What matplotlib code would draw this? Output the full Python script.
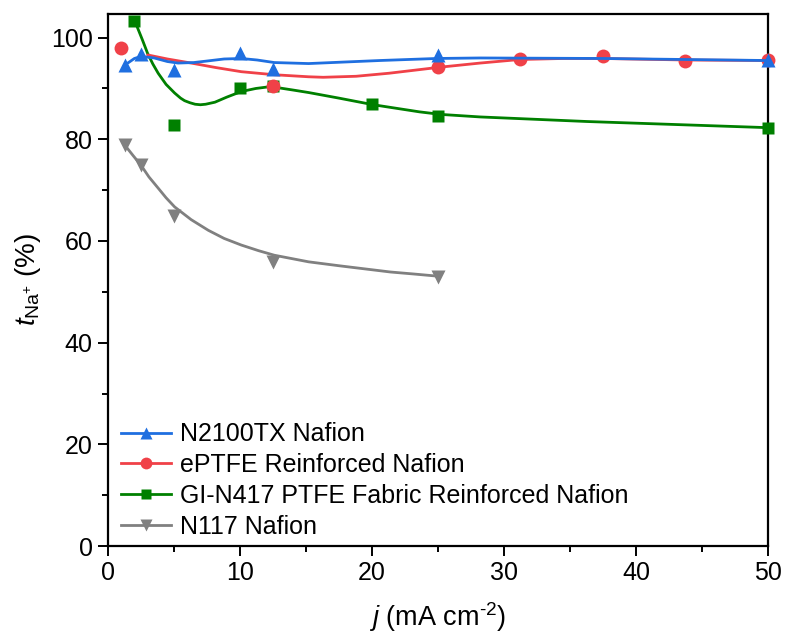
import numpy as np
import matplotlib
matplotlib.use("Agg")
import matplotlib.pyplot as plt
from matplotlib.ticker import MultipleLocator

plt.rcParams['font.family'] = ['Liberation Sans', 'DejaVu Sans']
plt.rcParams['mathtext.fontset'] = 'custom'
plt.rcParams['mathtext.rm'] = 'Liberation Sans'
plt.rcParams['mathtext.it'] = 'Liberation Sans:italic'

# measured points
x_n2100 = [1.25, 2.5, 5, 10, 12.5, 25, 50]
y_n2100 = [94.6, 96.7, 93.7, 97.0, 93.8, 96.6, 95.6]
x_eptfe = [1, 12.5, 25, 31.25, 37.5, 43.75, 50]
y_eptfe = [97.9, 90.5, 94.2, 95.8, 96.3, 95.4, 95.6]
x_gi = [2, 5, 10, 12.5, 20, 25, 50]
y_gi = [103.2, 82.9, 90.1, 90.5, 86.9, 84.5, 82.2]
x_n117 = [1.25, 2.5, 5, 12.5, 25]
y_n117 = [78.8, 75.0, 64.9, 55.9, 52.9]

# fitted curves
cx_n2100 = [1.5, 2.0, 2.5, 3.5, 4.5, 5.3, 6.5, 7.5, 8.8, 10.1, 11.3, 12.6, 15.2, 20.6, 24.9,
            28.2, 37.5, 49.9]
cy_n2100 = [95.0, 95.9, 96.3, 96.0, 95.3, 95.0, 95.1, 95.4, 95.8, 95.9, 95.6, 95.1, 94.9,
            95.5, 95.9, 96.0, 95.9, 95.5]
cx_eptfe = [3.0, 4.5, 6.3, 8.2, 10.1, 12.6, 15.2, 16.3, 18.8, 21.3, 25.2, 28.2, 31.2, 34.5,
            37.5, 43.8, 49.9]
cy_eptfe = [96.6, 95.8, 95.0, 94.1, 93.3, 92.7, 92.3, 92.2, 92.4, 93.0, 94.2, 95.0, 95.7,
            95.9, 95.9, 95.6, 95.5]
cx_gi = [2.15, 2.6, 3.0, 3.4, 3.8, 4.4, 5.05, 5.5, 5.8, 6.2, 6.6, 7.0, 7.4, 8.1, 9.0, 10.1,
         11.2, 12.1, 13.0, 14.0, 15.2, 17.5, 20.1, 23.6, 25.2, 28.2, 36.3, 49.9]
cy_gi = [102.5, 99.6, 96.9, 94.8, 93.0, 90.8, 89.1, 88.1, 87.6, 87.2, 86.9, 86.8, 86.9,
         87.3, 88.3, 89.4, 90.0, 90.3, 90.1, 89.7, 89.2, 88.1, 86.8, 85.4, 84.9, 84.4, 83.5,
         82.3]
cx_n117 = [1.26, 1.9, 2.5, 3.1, 3.8, 4.4, 5.05, 5.7, 6.3, 7.6, 8.8, 10.1, 11.4, 12.6, 13.8,
           15.2, 17.6, 19.5, 21.4, 23.2, 24.9]
cy_n117 = [78.9, 76.8, 74.9, 72.6, 70.4, 68.5, 66.7, 65.4, 64.2, 62.1, 60.5, 59.2, 58.1,
           57.2, 56.6, 55.9, 55.1, 54.5, 53.9, 53.5, 53.1]

c_blue = '#1f6fe0'
c_red = '#f04148'
c_green = '#008000'
c_gray = '#808080'

fig = plt.figure(figsize=(7.85, 6.39), dpi=100)
ax = fig.add_axes([0.1376, 0.1455, 0.8406, 0.833])

series = [
    ('N2100TX Nafion', x_n2100, y_n2100, cx_n2100, cy_n2100, c_blue, '^', 10.5, 5),
    ('ePTFE Reinforced Nafion', x_eptfe, y_eptfe, cx_eptfe, cy_eptfe, c_red, 'o', 10, 4),
    ('GI-N417 PTFE Fabric Reinforced Nafion', x_gi, y_gi, cx_gi, cy_gi, c_green, 's', 8.5, 3),
    ('N117 Nafion', x_n117, y_n117, cx_n117, cy_n117, c_gray, 'v', 10.5, 2),
]

handles = []
for label, x, y, cx, cy, col, mk, ms, z in series:
    ax.plot(cx, cy, '-', color=col, lw=2.0, zorder=z, solid_capstyle='round',
            solid_joinstyle='round')
    ax.plot(x, y, mk, color=col, ms=ms, mec='none', zorder=z + 0.5, clip_on=False)
    h, = ax.plot([], [], '-', marker=mk, color=col, lw=2.0, ms=ms * 0.85, mec='none')
    h.set_label(label)
    handles.append(h)

ax.set_xlim(0, 50)
ax.set_ylim(0, 104.7)
ax.xaxis.set_major_locator(MultipleLocator(10))
ax.xaxis.set_minor_locator(MultipleLocator(5))
ax.yaxis.set_major_locator(MultipleLocator(20))
ax.yaxis.set_minor_locator(MultipleLocator(10))
ax.tick_params(which='major', direction='out', length=7, width=1.4, labelsize=18, pad=4)
ax.tick_params(which='minor', direction='out', length=4, width=1.4)
for s in ax.spines.values():
    s.set_linewidth(1.6)

ax.set_xlabel(r'$\mathit{j}$ (mA cm$^{\text{-2}}$)', fontsize=19.5, labelpad=11)
ax.set_ylabel(r'$\mathit{t}_{\mathrm{Na}^{+}}$ (%)', fontsize=20, labelpad=6)

ax.legend(handles=handles, loc='lower left', bbox_to_anchor=(0.008, 0.0), frameon=False,
          fontsize=18, handlelength=2.0, handletextpad=0.35, labelspacing=0.27,
          borderaxespad=0.0, borderpad=0.3)

fig.savefig('out.png', dpi=100)
